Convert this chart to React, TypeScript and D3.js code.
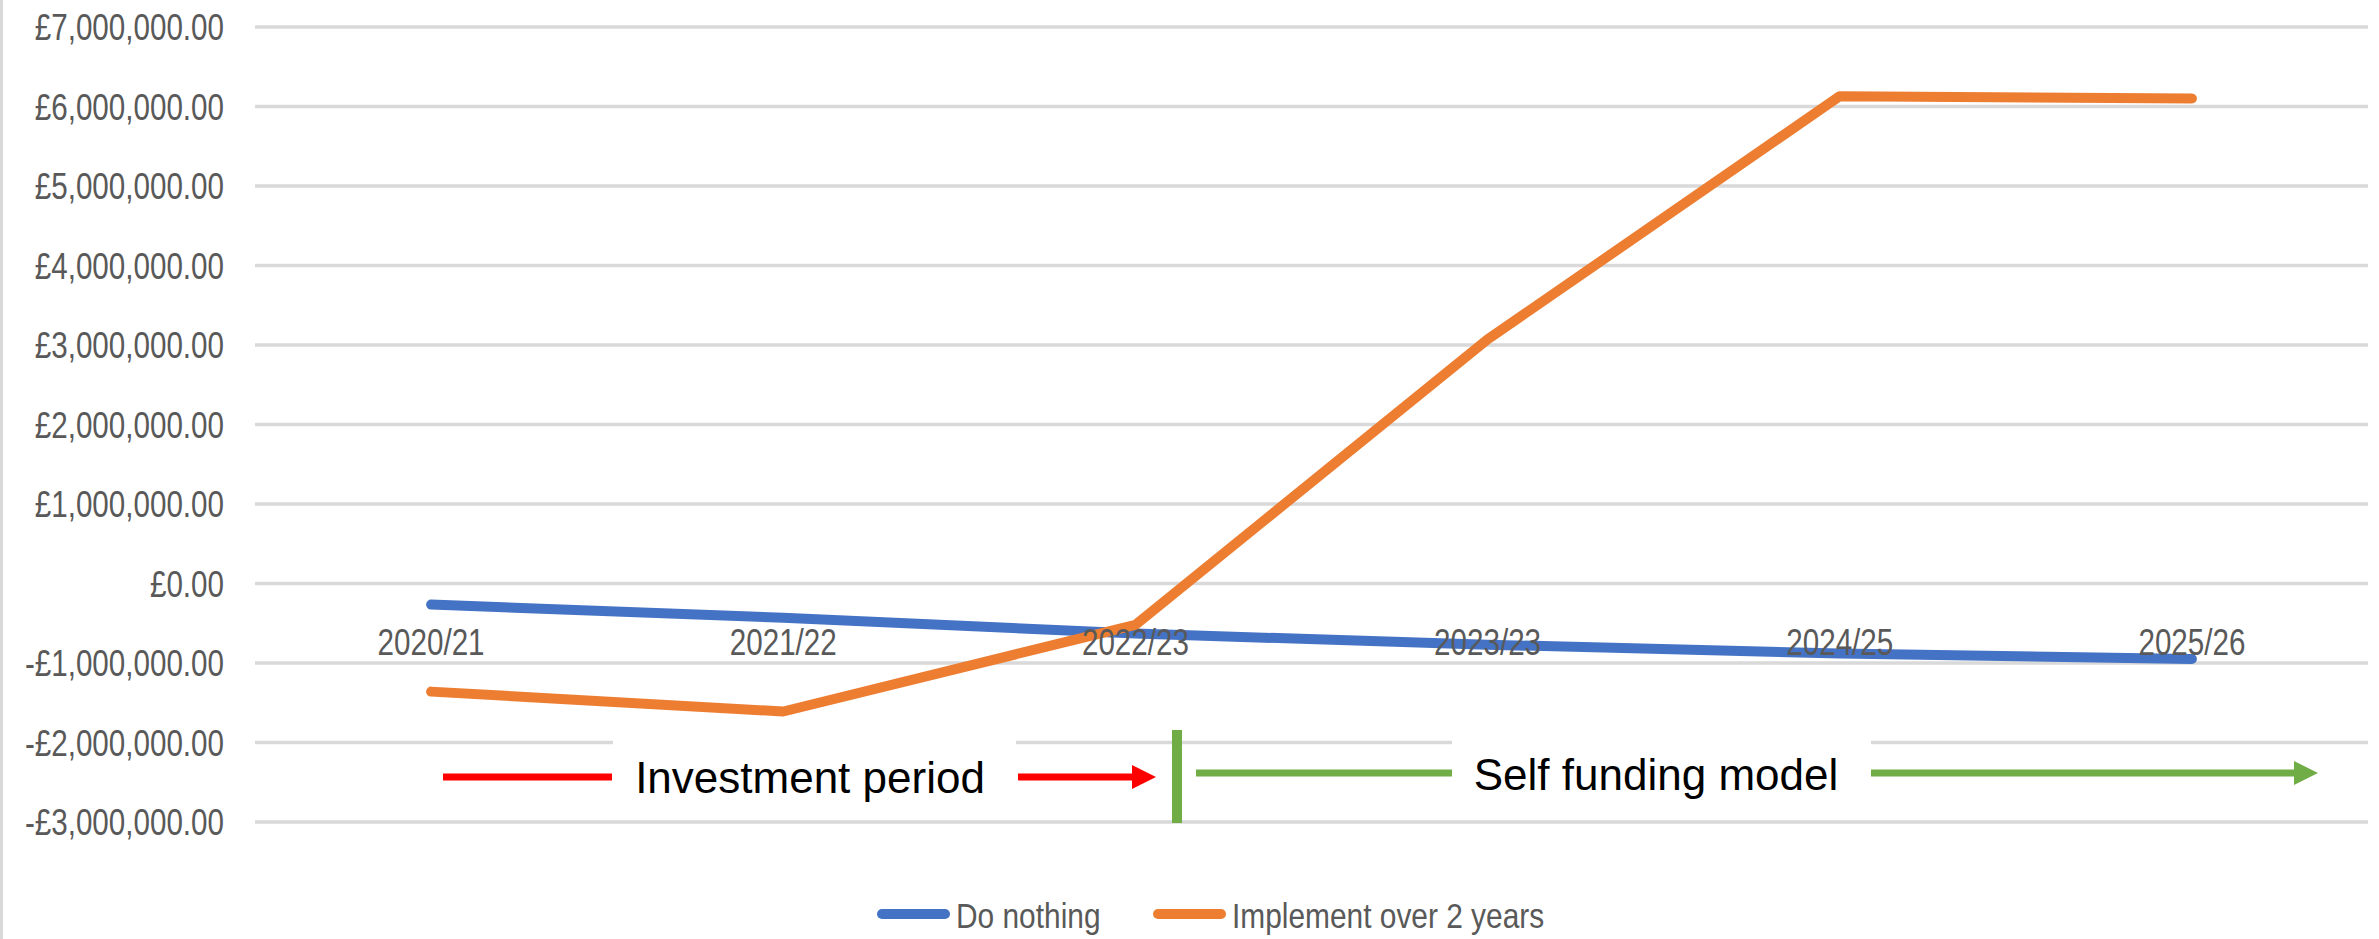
import { useEffect, useRef } from 'react';
import * as d3 from 'd3';

const categories = ['2020/21', '2021/22', '2022/23', '2023/23', '2024/25', '2025/26'];
const doNothing = [-265000, -430000, -630000, -770000, -880000, -950000];
const implementOver2Years = [-1360000, -1610000, -520000, 3070000, 6130000, 6100000];
const yTicks = [-3000000, -2000000, -1000000, 0, 1000000, 2000000, 3000000, 4000000, 5000000, 6000000, 7000000];
const seriesNames = ['Do nothing', 'Implement over 2 years'];
const seriesColors = ['#4472c4', '#ed7d31'];

const W = 2379;
const H = 939;
const FONT = '"Liberation Sans", Arial, sans-serif';

function money(v: number) {
    const s = '£' + d3.format(',.2f')(Math.abs(v));
    return v < 0 ? '-' + s : s;
}

export default function App() {
    const svgRef = useRef<SVGSVGElement>(null);

    useEffect(() => {
        document.body.style.margin = '0';
        if (!svgRef.current) return;
        const svg = d3.select(svgRef.current);
        svg.selectAll('*').remove();

        const x = d3.scalePoint<string>().domain(categories).range([255, 2368]).padding(0.5);
        const y = d3.scaleLinear().domain([-3000000, 7000000]).range([822, 27]);

        svg.append('rect').attr('width', W).attr('height', H).attr('fill', '#fff');
        // left border of the chart frame
        svg.append('rect').attr('x', 0).attr('y', 0).attr('width', 3).attr('height', H).attr('fill', '#d9d9d9');

        // gridlines
        svg.append('g')
            .selectAll('line')
            .data(yTicks)
            .enter()
            .append('line')
            .attr('x1', 255)
            .attr('x2', 2368)
            .attr('y1', d => y(d))
            .attr('y2', d => y(d))
            .attr('stroke', '#d9d9d9')
            .attr('stroke-width', 3.5);

        // y labels (condensed look)
        svg.append('g')
            .selectAll('text')
            .data(yTicks)
            .enter()
            .append('text')
            .attr('transform', d => `translate(224,${y(d) + 13}) scale(0.8,1)`)
            .attr('text-anchor', 'end')
            .attr('font-family', FONT)
            .attr('font-size', 37)
            .attr('fill', '#595959')
            .text(d => money(d));

        // series
        const line = d3.line<number>()
            .x((_, i) => x(categories[i]) as number)
            .y(d => y(d));

        [doNothing, implementOver2Years].forEach((vals, si) => {
            svg.append('path')
                .datum(vals)
                .attr('d', line)
                .attr('fill', 'none')
                .attr('stroke', seriesColors[si])
                .attr('stroke-width', 10)
                .attr('stroke-linecap', 'round')
                .attr('stroke-linejoin', 'round');
        });

        // category labels next to the zero axis
        svg.append('g')
            .selectAll('text')
            .data(categories)
            .enter()
            .append('text')
            .attr('transform', d => `translate(${x(d)},${y(0) + 71}) scale(0.8,1)`)
            .attr('text-anchor', 'middle')
            .attr('font-family', FONT)
            .attr('font-size', 37)
            .attr('fill', '#595959')
            .text(d => d);

        // annotations
        const ay = 777;
        const ann = svg.append('g');
        const arrowHead = (tip: number, yy: number, color: string) =>
            ann.append('path')
                .attr('d', `M${tip - 24},${yy - 12} L${tip},${yy} L${tip - 24},${yy + 12} Z`)
                .attr('fill', color);

        ann.append('rect').attr('x', 613).attr('y', 740).attr('width', 403).attr('height', 74).attr('fill', '#fff');
        ann.append('rect').attr('x', 1452).attr('y', 740).attr('width', 419).attr('height', 74).attr('fill', '#fff');

        ann.append('line').attr('x1', 443).attr('x2', 612).attr('y1', ay).attr('y2', ay)
            .attr('stroke', '#ff0000').attr('stroke-width', 7);
        ann.append('line').attr('x1', 1018).attr('x2', 1134).attr('y1', ay).attr('y2', ay)
            .attr('stroke', '#ff0000').attr('stroke-width', 7);
        arrowHead(1156, ay, '#ff0000');

        ann.append('rect').attr('x', 1172).attr('y', 730).attr('width', 10).attr('height', 93).attr('fill', '#70ad47');

        ann.append('line').attr('x1', 1196).attr('x2', 1452).attr('y1', ay - 4).attr('y2', ay - 4)
            .attr('stroke', '#70ad47').attr('stroke-width', 7);
        ann.append('line').attr('x1', 1871).attr('x2', 2294).attr('y1', ay - 4).attr('y2', ay - 4)
            .attr('stroke', '#70ad47').attr('stroke-width', 7);
        arrowHead(2318, ay - 4, '#70ad47');

        ann.append('text').attr('x', 810).attr('y', 793).attr('text-anchor', 'middle')
            .attr('font-family', FONT).attr('font-size', 44).attr('fill', '#000').text('Investment period');
        ann.append('text').attr('x', 1656).attr('y', 790).attr('text-anchor', 'middle')
            .attr('font-family', FONT).attr('font-size', 44).attr('fill', '#000').text('Self funding model');

        // legend
        const legend = svg.append('g');
        const legendX = [877, 1153];
        seriesNames.forEach((name, i) => {
            legend.append('line')
                .attr('x1', legendX[i] + 5).attr('x2', legendX[i] + 68)
                .attr('y1', 914).attr('y2', 914)
                .attr('stroke', seriesColors[i]).attr('stroke-width', 10)
                .attr('stroke-linecap', 'round');
            legend.append('text')
                .attr('transform', `translate(${legendX[i] + 79},928) scale(0.83,1)`)
                .attr('font-family', FONT)
                .attr('font-size', 36)
                .attr('fill', '#595959')
                .text(name);
        });
    }, []);

    return <svg ref={svgRef} width={W} height={H} viewBox={`0 0 ${W} ${H}`} style={{ display: 'block' }} />;
}
